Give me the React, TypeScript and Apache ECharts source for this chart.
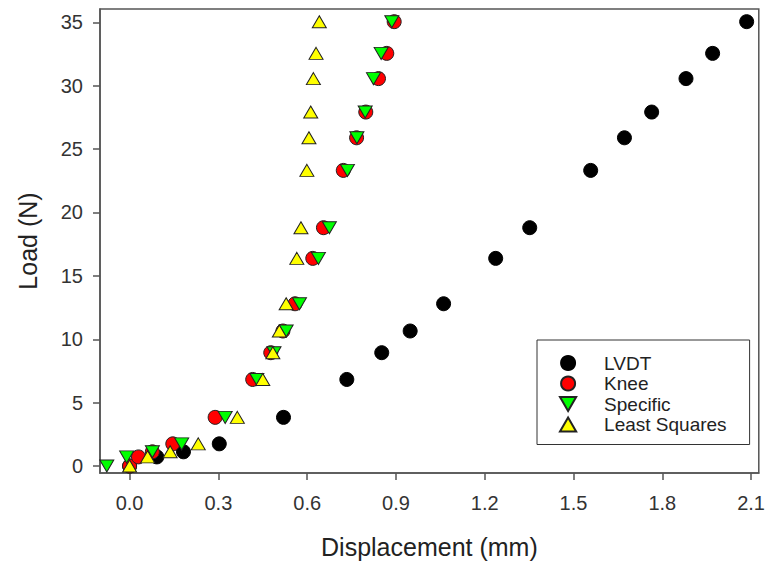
import React, { useEffect, useRef } from "react";
import * as echarts from "echarts";

const loads = [0, 0.72, 1.12, 1.75, 3.84, 6.83, 8.94, 10.65, 12.8, 16.38, 18.8, 23.32, 25.89, 27.92, 30.56, 32.55, 35.05];
const lvdtX = [0, 0.092, 0.182, 0.303, 0.52, 0.734, 0.852, 0.948, 1.061, 1.237, 1.352, 1.558, 1.672, 1.764, 1.88, 1.97, 2.085];
const kneeX = [0, 0.03, 0.077, 0.146, 0.289, 0.416, 0.477, 0.518, 0.559, 0.619, 0.655, 0.722, 0.767, 0.798, 0.841, 0.869, 0.894];
const specificX = [-0.077, -0.01, 0.077, 0.176, 0.323, 0.43, 0.488, 0.529, 0.574, 0.638, 0.675, 0.736, 0.768, 0.796, 0.824, 0.85, 0.886];
const leastSquaresX = [0, 0.061, 0.137, 0.232, 0.364, 0.45, 0.484, 0.506, 0.529, 0.565, 0.579, 0.599, 0.606, 0.612, 0.621, 0.63, 0.641];

const xTicks = [0, 0.3, 0.6, 0.9, 1.2, 1.5, 1.8, 2.1];
const yTicks = [0, 5, 10, 15, 20, 25, 30, 35];

const seriesNames = ["LVDT", "Knee", "Specific", "Least Squares"];

const FONT = "'Liberation Sans', Arial, sans-serif";
const AXIS_COLOR = "#555";

function pairs(xs: number[], ys: number[]) {
  return xs.map((x, i) => [x, ys[i]]);
}

export default function App() {
  const ref = useRef<HTMLDivElement>(null);
  useEffect(() => {
    if (!ref.current) return;
    const chart = echarts.init(ref.current, null, { renderer: "svg" });
    const downTri = "path://M0,0 L10,0 L5,8.66 Z";
    const upTri = "path://M5,0 L10,8.66 L0,8.66 Z";
    chart.setOption({
      animation: false,
      backgroundColor: "#fff",
      textStyle: { fontFamily: FONT },
      grid: {
        left: 100,
        right: 9,
        top: 9,
        bottom: 91,
        show: true,
        borderColor: AXIS_COLOR,
        borderWidth: 1.5,
        backgroundColor: "transparent",
      },
      legend: {
        orient: "vertical",
        left: 537,
        top: 340,
        data: seriesNames,
        itemWidth: 62,
        itemHeight: 14,
        itemGap: 0.5,
        padding: [13, 23, 10, 22],
        borderColor: "#333",
        borderWidth: 1,
        selectedMode: false,
        textStyle: { fontFamily: FONT, fontSize: 19, color: "#222", lineHeight: 20 },
      },
      xAxis: {
        type: "value",
        min: -0.1,
        max: 2.126,
        name: "Displacement (mm)",
        nameLocation: "middle",
        nameGap: 61,
        nameTextStyle: { fontFamily: FONT, fontSize: 25, color: "#222" },
        splitLine: { show: false },
        axisLine: { show: true, onZero: false, lineStyle: { color: AXIS_COLOR, width: 1.5 } },
        axisTick: { show: true, length: 7, customValues: xTicks, lineStyle: { color: AXIS_COLOR, width: 1.5 } },
        axisLabel: {
          customValues: xTicks,
          margin: 20,
          fontFamily: FONT,
          fontSize: 20,
          color: "#333",
          formatter: (v: number) => v.toFixed(1),
        },
      },
      yAxis: {
        type: "value",
        min: -0.55,
        max: 36.05,
        name: "Load (N)",
        nameLocation: "middle",
        nameGap: 60,
        nameTextStyle: { fontFamily: FONT, fontSize: 25, color: "#222" },
        splitLine: { show: false },
        axisLine: { show: true, onZero: false, lineStyle: { color: AXIS_COLOR, width: 1.5 } },
        axisTick: { show: true, length: 7, customValues: yTicks, lineStyle: { color: AXIS_COLOR, width: 1.5 } },
        axisLabel: {
          customValues: yTicks,
          margin: 17,
          fontFamily: FONT,
          fontSize: 20,
          color: "#333",
        },
      },
      series: [
        {
          name: seriesNames[0],
          type: "scatter",
          symbol: "circle",
          symbolSize: 14,
          itemStyle: { color: "#000", borderColor: "#000", borderWidth: 1, opacity: 1 },
          data: pairs(lvdtX, loads),
        },
        {
          name: seriesNames[1],
          type: "scatter",
          symbol: "circle",
          symbolSize: 14,
          itemStyle: { color: "#ff0000", borderColor: "#222", borderWidth: 1, opacity: 1 },
          data: pairs(kneeX, loads),
        },
        {
          name: seriesNames[2],
          type: "scatter",
          symbol: downTri,
          symbolSize: [14, 12],
          itemStyle: { color: "#00ff00", borderColor: "#222", borderWidth: 1, opacity: 1 },
          data: pairs(specificX, loads),
        },
        {
          name: seriesNames[3],
          type: "scatter",
          symbol: upTri,
          symbolSize: [14, 12],
          itemStyle: { color: "#ffff00", borderColor: "#222", borderWidth: 1, opacity: 1 },
          data: pairs(leastSquaresX, loads),
        },
      ],
    });
    return () => chart.dispose();
  }, []);
  return <div ref={ref} style={{ width: 768, height: 564, position: "absolute", left: 0, top: 0 }} />;
}
